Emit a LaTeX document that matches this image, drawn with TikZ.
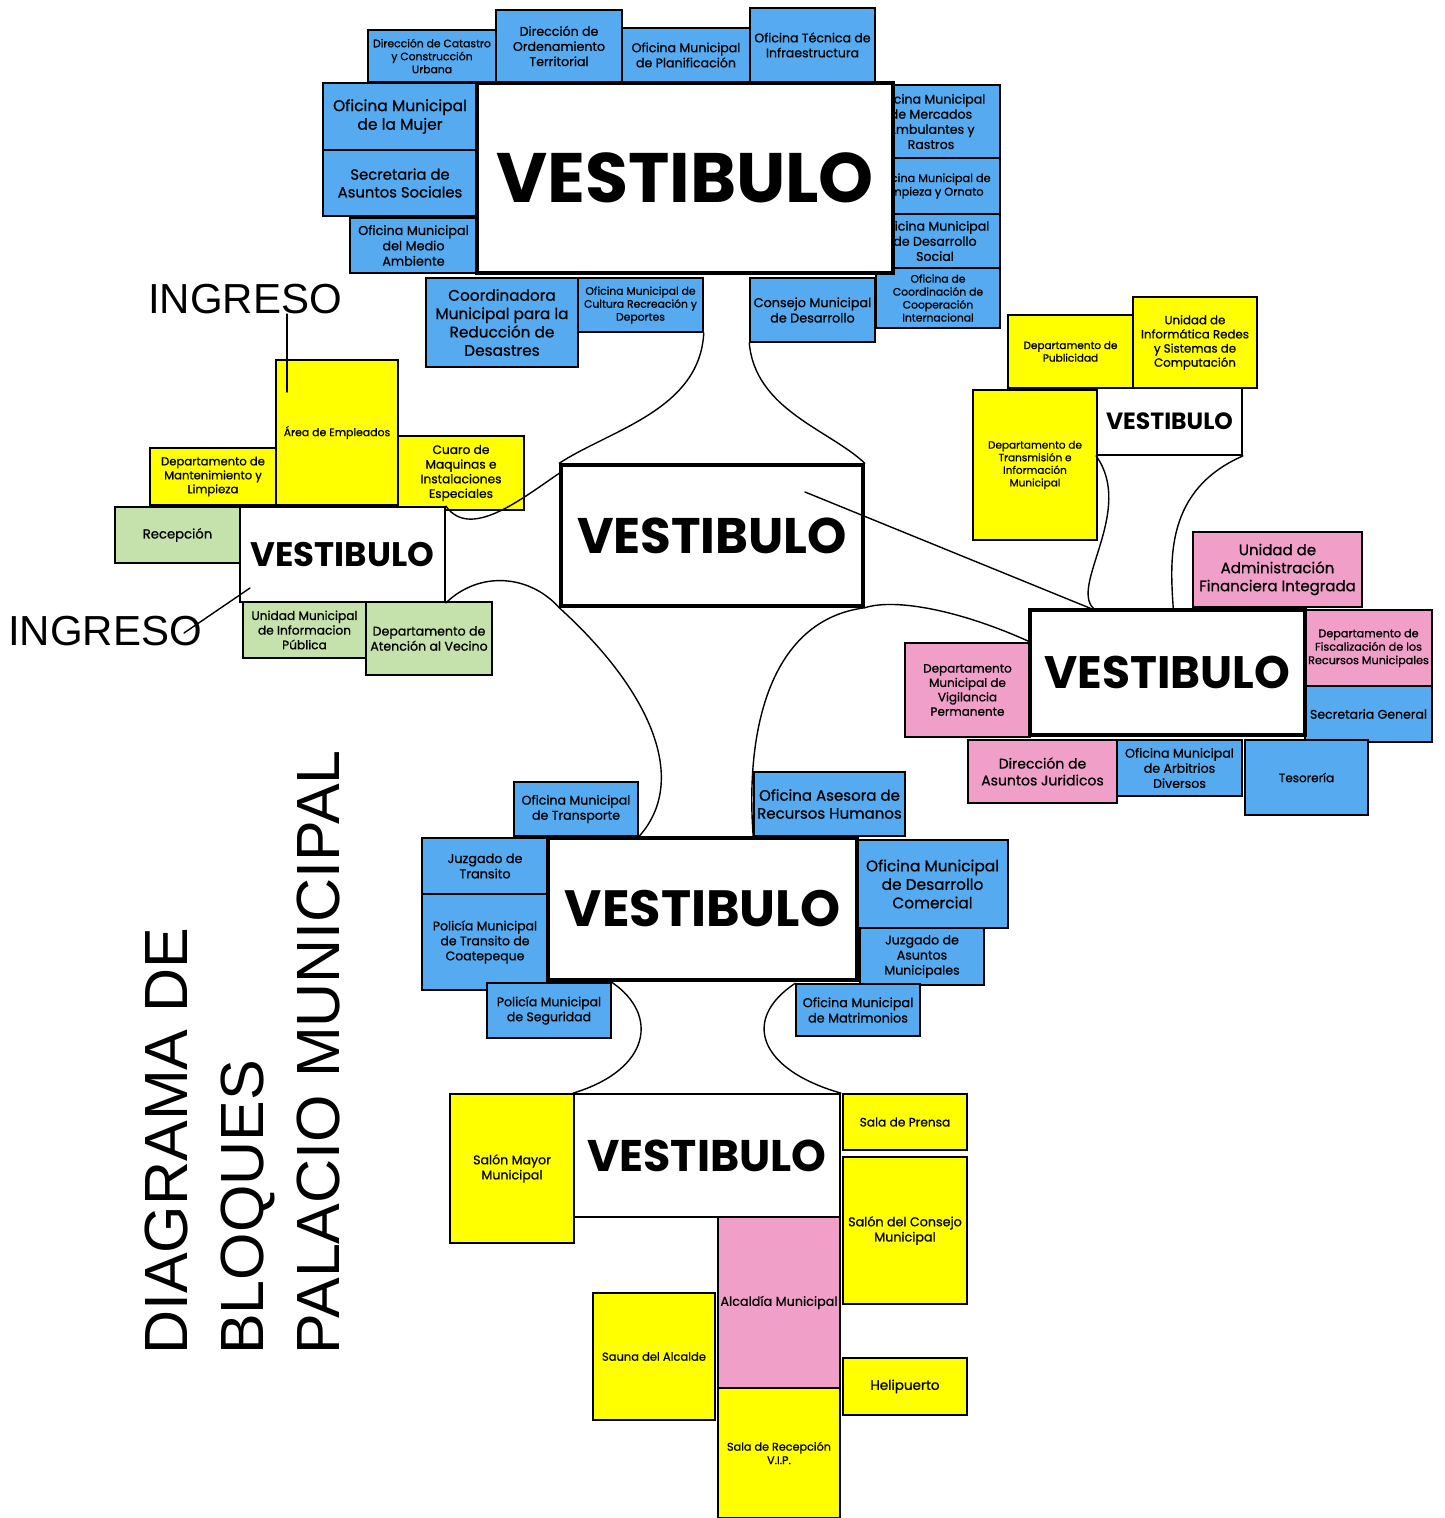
\documentclass[tikz,border=0pt]{standalone}
\usepackage{fontspec}
\setmainfont{Poppins}
\newfontfamily\boxf{Poppins}[RawFeature={embolden=0.8}]
\newfontfamily\arialf{Liberation Sans}
\usetikzlibrary{calc}
\definecolor{bblue}{RGB}{86,170,240}
\definecolor{bpink}{RGB}{240,160,200}
\definecolor{bgreen}{RGB}{198,226,172}
\definecolor{byel}{RGB}{255,255,0}
\newcommand\fsz[1]{\fontsize{#1}{\dimexpr #1pt*6/5\relax}\selectfont}
\newcommand\bx[8]{%
  \pgfmathsetmacro\bxw{#5-#3}\pgfmathsetmacro\bxh{#6-#4}%
  \node[#2, minimum width=\bxw pt, minimum height=\bxh pt, font=\boxf\fsz{#7}] (#1) at ({(#3+#5)/2},{(#4+#6)/2}) {#8};}
\tikzset{
  box/.style={draw, line width=1.5pt, inner sep=1pt, align=center, text=black},
  bl/.style={box, fill=bblue},
  ye/.style={box, fill=byel},
  pk/.style={box, fill=bpink},
  gr/.style={box, fill=bgreen},
  vest/.style={box, fill=white, line width=3.5pt},
  vestthin/.style={box, fill=white, line width=1.8pt},
  conn/.style={line width=1.4pt, line cap=round},
}
\newcommand\vtext{\normalfont\bfseries VESTIBULO}
\begin{document}
\begin{tikzpicture}[x=1pt,y=-1pt]
\useasboundingbox (0,0) rectangle (1445,1518);
\fill[white] (0,0) rectangle (1445,1518);

% ---------- top cluster ----------
\bx{catastro}{bl}{368}{30}{496}{82}{10.8}{Dirección de Catastro\\y Construcción\\Urbana}
\bx{ordena}{bl}{496}{10}{622}{82}{12.6}{Dirección de\\Ordenamiento\\Territorial}
\bx{planif}{bl}{622}{28}{750}{82}{12.6}{Oficina Municipal\\de Planificación}
\bx{tecnica}{bl}{750}{8}{875}{82}{12.5}{Oficina Técnica de\\Infraestructura}
\bx{mujer}{bl}{323}{83}{477}{150}{15.5}{Oficina Municipal\\de la Mujer}
\bx{sociales}{bl}{323}{150}{477}{216}{14.8}{Secretaria de\\Asuntos Sociales}
\bx{medioamb}{bl}{350}{218}{477}{273}{12.8}{Oficina Municipal\\del Medio\\Ambiente}
\bx{coord}{bl}{426}{278}{578}{367}{15.3}{Coordinadora\\Municipal para la\\Reducción de\\Desastres}
\bx{cultura}{bl}{578}{278}{703}{332}{10.8}{Oficina Municipal de\\Cultura Recreación y\\Deportes}
\bx{consejo}{bl}{750}{278}{875}{342}{12.8}{Consejo Municipal\\de Desarrollo}
\bx{mercados}{bl}{862}{85}{1000}{158}{12.6}{Oficina Municipal\\de Mercados\\Ambulantes y\\Rastros}
\bx{limpieza}{bl}{866}{158}{1000}{214}{11.3}{Oficina Municipal de\\Limpieza y Ornato}
\bx{dessocial}{bl}{870}{214}{1000}{268}{12.6}{Oficina Municipal\\de Desarrollo\\Social}
\bx{coop}{bl}{876}{268}{1000}{328}{10.8}{Oficina de\\Coordinación de\\Cooperación\\Internacional}
\bx{vtop}{vest}{477}{83}{893}{273}{70}{\vtext}

% ---------- upper right cluster ----------
\bx{public}{ye}{1008}{315}{1133}{388}{10.5}{Departamento de\\Publicidad}
\bx{informat}{ye}{1133}{297}{1257}{388}{11.8}{Unidad de\\Informática Redes\\y Sistemas de\\Computación}
\bx{transm}{ye}{973}{390}{1097}{540}{10.5}{Departamento de\\Transmisión e\\Información\\Municipal}
\bx{vsmall}{vestthin}{1097}{388}{1242}{455}{23.5}{\vtext}

% ---------- right cluster ----------
\bx{uafi}{pk}{1193}{532}{1362}{607}{15}{Unidad de\\Administración\\Financiera Integrada}
\bx{fiscal}{pk}{1305}{610}{1432}{686}{11.2}{Departamento de\\Fiscalización de los\\Recursos Municipales}
\bx{secgen}{bl}{1305}{686}{1432}{742}{12.5}{Secretaria General}
\bx{vigil}{pk}{905}{643}{1030}{737}{12}{Departamento\\Municipal de\\Vigilancia\\Permanente}
\bx{juridic}{pk}{968}{740}{1117}{803}{14}{Dirección de\\Asuntos Juridicos}
\bx{arbitr}{bl}{1117}{740}{1242}{796}{12.6}{Oficina Municipal\\de Arbitrios\\Diversos}
\bx{tesor}{bl}{1245}{740}{1368}{815}{12}{Tesorería}
\bx{vright}{vest}{1030}{610}{1305}{735}{45.5}{\vtext}

% ---------- left cluster ----------
\bx{emplead}{ye}{276}{360}{398}{505}{10.9}{Área de Empleados}
\bx{manten}{ye}{150}{448}{276}{505}{11.6}{Departamento de\\Mantenimiento y\\Limpieza}
\bx{cuaro}{ye}{398}{436}{524}{510}{12.2}{Cuaro de\\Maquinas e\\Instalaciones\\Especiales}
\bx{recep}{gr}{115}{507}{240}{563}{13.2}{Recepción}
\bx{umip}{gr}{243}{602}{366}{658}{12.2}{Unidad Municipal\\de Informacion\\Pública}
\bx{atenc}{gr}{366}{602}{492}{675}{12.6}{Departamento de\\Atención al Vecino}
\bx{vleft}{vestthin}{240}{507}{445}{602}{34}{\vtext}

% ---------- center ----------
\bx{vcenter}{vest}{561}{465}{863}{606}{50}{\vtext}

% ---------- lower cluster ----------
\bx{transp}{bl}{514}{782}{638}{836}{12.6}{Oficina Municipal\\de Transporte}
\bx{rrhh}{bl}{754}{772}{905}{836}{15}{Oficina Asesora de\\Recursos Humanos}
\bx{juztran}{bl}{422}{838}{548}{894}{12.8}{Juzgado de\\Transito}
\bx{poltran}{bl}{422}{894}{548}{990}{12.5}{Policía Municipal\\de Transito de\\Coatepeque}
\bx{polseg}{bl}{487}{983}{611}{1038}{12.5}{Policía Municipal\\de Seguridad}
\bx{descom}{bl}{857}{840}{1008}{928}{15.4}{Oficina Municipal\\de Desarrollo\\Comercial}
\bx{juzasu}{bl}{860}{928}{984}{985}{12.6}{Juzgado de\\Asuntos\\Municipales}
\bx{matrim}{bl}{796}{984}{920}{1036}{12.8}{Oficina Municipal\\de Matrimonios}
\bx{vlow}{vest}{548}{838}{857}{980}{51}{\vtext}

% ---------- bottom cluster ----------
\bx{salonmay}{ye}{450}{1094}{574}{1243}{12.6}{Salón Mayor\\Municipal}
\bx{prensa}{ye}{843}{1094}{967}{1150}{12.2}{Sala de Prensa}
\bx{salcons}{ye}{843}{1157}{967}{1304}{12.7}{Salón del Consejo\\Municipal}
\bx{alcaldia}{pk}{718}{1217}{840}{1388}{12.8}{Alcaldía Municipal}
\bx{sauna}{ye}{593}{1293}{715}{1420}{11.5}{Sauna del Alcalde}
\bx{helip}{ye}{843}{1358}{967}{1415}{13.5}{Helipuerto}
\bx{salavip}{ye}{718}{1388}{840}{1518}{11.2}{Sala de Recepción\\V.I.P.}
\bx{vbottom}{vestthin}{574}{1094}{840}{1217}{44.3}{\vtext}

% ---------- labels ----------
\node[font=\arialf\fontsize{42}{50}\selectfont, inner sep=0] (ing1) at (245,299) {INGRESO};
\node[font=\arialf\fontsize{42}{50}\selectfont, inner sep=0] (ing2) at (105,631) {INGRESO};
\node[font=\arialf\fontsize{61}{76}\selectfont, rotate=90, anchor=north west, align=left, inner sep=0] (title) at (145,1355) {DIAGRAMA DE\\BLOQUES\\PALACIO MUNICIPAL};

% ---------- connectors ----------
\coordinate (ing1end) at (287,392);
\coordinate (ing2s) at (184,633);
\coordinate (ing2end) at (250,588);
\draw[conn] (ing1.south -| ing1end) -- (ing1end);
\draw[conn] (ing2s) -- (ing2end);

\draw[conn] (cultura.south east) .. controls (700,410) and (610,430) .. (vcenter.north west);
\draw[conn] (consejo.south west) .. controls (755,410) and (830,430) .. (vcenter.north east);
\draw[conn] (vleft.north east) .. controls (470,540) and (520,500) .. ([yshift=-10pt]vcenter.north west);
\draw[conn] (vleft.south east) .. controls (480,570) and (530,575) .. (vcenter.south west);
\draw[conn] (vcenter.south west) .. controls (650,690) and (690,780) .. (transp.south east);
\draw[conn] (vcenter.south east) .. controls (770,620) and (745,730) .. (rrhh.south west);
\draw[conn] (vcenter.south east) .. controls (895,598) and (960,610) .. (vigil.north east);
\coordinate (c8s) at (805,492);
\draw[conn] (c8s) -- ([xshift=62pt]vright.north west);
\draw[conn] (vsmall.south west) .. controls (1135,510) and (1070,585) .. ([xshift=65pt]vright.north west);
\draw[conn] (vsmall.south east) .. controls (1165,490) and (1170,560) .. ([xshift=145pt]vright.north west);
\draw[conn] (polseg.north east) .. controls (660,1015) and (650,1070) .. (vbottom.north west);
\draw[conn] (matrim.north west) .. controls (740,1020) and (760,1070) .. (vbottom.north east);
\end{tikzpicture}
\end{document}
